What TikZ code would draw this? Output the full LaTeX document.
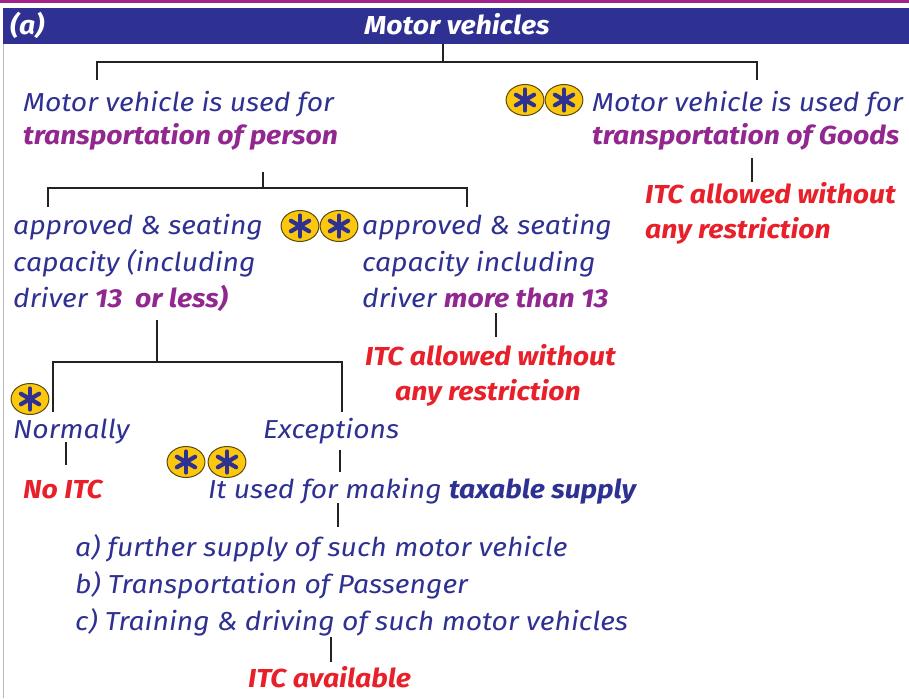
\documentclass[tikz,border=0pt]{standalone}
\usepackage{fontspec}
\setmainfont{Fira Sans}[FakeStretch=1.09]
\usetikzlibrary{calc}
\definecolor{navy}{HTML}{2E3192}
\definecolor{plum}{HTML}{92278F}
\definecolor{itcred}{HTML}{E8202A}
\definecolor{band}{HTML}{2E3192}
\definecolor{topline}{HTML}{A3238E}
\definecolor{starfill}{HTML}{FBC70F}
\definecolor{starline}{HTML}{5C4A08}
\definecolor{tree}{HTML}{222222}
\definecolor{frame}{HTML}{BBBBBB}
\newcommand{\pl}[1]{{\bfseries\color{plum}#1}}
\newcommand{\nb}[1]{{\bfseries\color{navy}#1}}
% yellow badge with a blue asterisk
\newcommand{\badge}[2]{%
  \node[draw=starline,fill=starfill,line width=1pt,shape=circle,xscale=1.22,inner sep=0pt,minimum size=31pt] (#2) at #1 {};
  \foreach \a in {90,30,-30}{\draw[navy,line width=4.2pt,line cap=round] ($(#2)+(\a:10.5pt)$) -- ($(#2)+(\a+180:10.5pt)$);}}
\begin{document}
\begin{tikzpicture}[x=1pt,y=-1pt,
  txt/.style={anchor=base west,inner sep=0pt,text=navy,font=\fontsize{26}{30}\selectfont\itshape},
  red/.style={txt,text=itcred,font=\fontsize{26}{30}\selectfont\bfseries\itshape},
  head/.style={inner sep=0pt,text=white,font=\fontsize{26}{30}\selectfont\bfseries\itshape},
  link/.style={draw=tree,line width=2.8pt}]
\useasboundingbox (0,0) rectangle (909,698);
\fill[white] (0,0) rectangle (909,698);
% frame and header band
\draw[frame,line width=1pt] (3.5,44) -- (3.5,698);
\fill[topline] (0,0) rectangle (909,3);
\fill[band] (3,8) rectangle (909,44);
\node[head,anchor=base west] (lbl) at (10,35) {(a)};
\node[head,anchor=base] (root) at (457,35) {Motor vehicles};
% level 1
\node[txt] (p1) at (23,111) {Motor vehicle is used for};
\node[txt] (p2) at (23,144) {\pl{transportation of person}};
\node[txt] (g1) at (592,111) {Motor vehicle is used for};
\node[txt] (g2) at (592,144) {\pl{transportation of Goods}};
\node[red] (g3) at (645,203) {ITC allowed without};
\node[red] (g4) at (645,238) {any restriction};
% level 2
\node[txt] (a1) at (13,234) {approved \& seating};
\node[txt] (a2) at (13,271) {capacity (including};
\node[txt] (a3) at (13,307) {driver \pl{13~ or less)}};
\node[txt] (m1) at (362,234) {approved \& seating};
\node[txt] (m2) at (362,271) {capacity including};
\node[txt] (m3) at (362,307) {driver \pl{more than 13}};
\node[red] (m4) at (365,365) {ITC allowed without};
\node[red] (m5) at (395,400) {any restriction};
% level 3
\node[txt] (n1) at (13,438) {Normally};
\node[txt] (e1) at (263,438) {Exceptions};
\node[red] (n2) at (23,498) {No ITC};
\node[txt] (e2) at (208,498) {It used for making \nb{taxable supply}};
\node[txt] (la) at (75,556) {a) further supply of such motor vehicle};
\node[txt] (lb) at (75,593) {b) Transportation of Passenger};
\node[txt] (lc) at (75,630) {c) Training \& driving of such motor vehicles};
\node[red] (av) at (248,687) {ITC available};
% badges
\badge{(525,100)}{s1}\badge{(564,100)}{s2}
\badge{(300,226)}{s3}\badge{(339,226)}{s4}
\badge{(30,399)}{s5}
\badge{(186,462)}{s6}\badge{(227,462)}{s7}
% tree connectors
\coordinate (r0) at (443,44);
\coordinate (r1) at (443,62);
\coordinate (rl) at (97,62);  \coordinate (rr) at (757,62);
\coordinate (rl2) at (97,80); \coordinate (rr2) at (757,80);
\draw[link] (r0) -- (r1);
\draw[link] (rl2) -- (rl) -- (rr) -- (rr2);
\draw[link] (752,158) -- (752,182);
\coordinate (q0) at (263,172); \coordinate (q1) at (263,188);
\coordinate (ql) at (48,188);  \coordinate (qr) at (467,188);
\draw[link] (q0) -- (q1);
\draw[link] (48,207) -- (ql) -- (qr) -- (467,207);
\draw[link] (496,313) -- (496,337);
\coordinate (t0) at (157,320); \coordinate (t1) at (157,362);
\coordinate (tl) at (53,362);  \coordinate (tr) at (342,362);
\draw[link] (t0) -- (t1);
\draw[link] (53,412) -- (tl) -- (tr) -- (342,412);
\draw[link] (66,442) -- (66,465);
\draw[link] (340,450) -- (340,472);
\draw[link] (338,503) -- (338,527);
\draw[link] (331,637) -- (331,662);
\end{tikzpicture}
\end{document}
